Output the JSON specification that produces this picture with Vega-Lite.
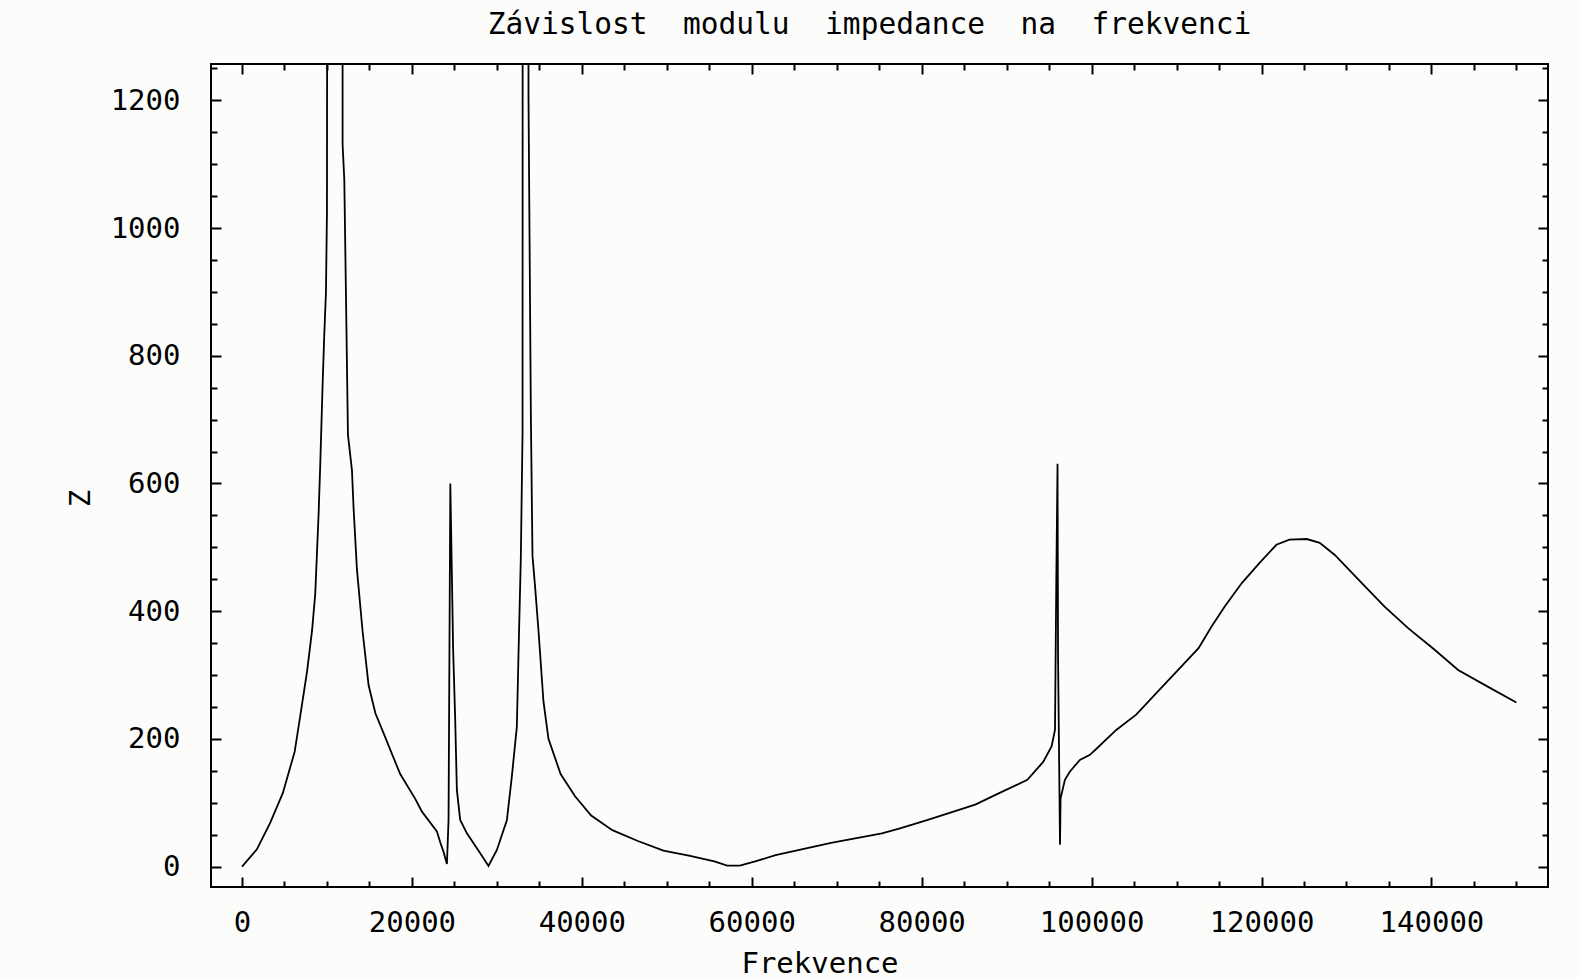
{
  "$schema": "https://vega.github.io/schema/vega-lite/v6.json",
  "width": 1337,
  "height": 823,
  "autosize": {"type": "none"},
  "padding": {"left": 211, "top": 64, "right": 31, "bottom": 92},
  "background": "#fcfdfb",
  "title": {
    "text": "Závislost\u00a0 modulu\u00a0 impedance\u00a0 na\u00a0 frekvenci",
    "font": "DejaVu Sans Mono",
    "fontSize": 29.5,
    "fontWeight": "normal",
    "color": "#000000",
    "anchor": "middle",
    "frame": "group",
    "baseline": "alphabetic",
    "offset": 29.5,
    "dx": -10,
    "dy": 30
  },
  "data": {
    "values": [
      {"f": 0, "z": 0}, {"f": 1750, "z": 27}, {"f": 3300, "z": 68}, {"f": 4800, "z": 115},
      {"f": 6200, "z": 180}, {"f": 6900, "z": 240}, {"f": 7650, "z": 305}, {"f": 8240, "z": 369},
      {"f": 8620, "z": 427}, {"f": 9020, "z": 554}, {"f": 9210, "z": 630}, {"f": 9490, "z": 756},
      {"f": 9680, "z": 832}, {"f": 9880, "z": 899}, {"f": 10000, "z": 1026}, {"f": 10200, "z": 4000},
      {"f": 11800, "z": 4000}, {"f": 11840, "z": 1131}, {"f": 12040, "z": 1076}, {"f": 12240, "z": 891},
      {"f": 12470, "z": 676}, {"f": 12940, "z": 621}, {"f": 13130, "z": 562}, {"f": 13530, "z": 465},
      {"f": 14190, "z": 369}, {"f": 14900, "z": 284}, {"f": 15700, "z": 240}, {"f": 16660, "z": 209},
      {"f": 17600, "z": 178}, {"f": 18620, "z": 145}, {"f": 20390, "z": 106}, {"f": 21180, "z": 86},
      {"f": 22940, "z": 55}, {"f": 23330, "z": 38}, {"f": 23720, "z": 23}, {"f": 24120, "z": 4},
      {"f": 24310, "z": 73}, {"f": 24480, "z": 500}, {"f": 24520, "z": 600}, {"f": 24850, "z": 340},
      {"f": 25090, "z": 232}, {"f": 25290, "z": 120}, {"f": 25680, "z": 73}, {"f": 26470, "z": 52},
      {"f": 28040, "z": 21}, {"f": 29010, "z": 1}, {"f": 30000, "z": 26}, {"f": 31180, "z": 73},
      {"f": 31760, "z": 141}, {"f": 32350, "z": 219}, {"f": 32540, "z": 330}, {"f": 32820, "z": 485},
      {"f": 33020, "z": 680}, {"f": 33080, "z": 4000}, {"f": 33700, "z": 4000}, {"f": 33720, "z": 1207},
      {"f": 34000, "z": 706}, {"f": 34190, "z": 487}, {"f": 34510, "z": 436}, {"f": 34900, "z": 369},
      {"f": 35480, "z": 259}, {"f": 36070, "z": 200}, {"f": 37500, "z": 145}, {"f": 39200, "z": 110},
      {"f": 41100, "z": 80}, {"f": 43590, "z": 57}, {"f": 46600, "z": 40}, {"f": 49600, "z": 25},
      {"f": 52600, "z": 17}, {"f": 55600, "z": 8}, {"f": 57100, "z": 1.5}, {"f": 58600, "z": 1.5},
      {"f": 60400, "z": 8}, {"f": 62800, "z": 18}, {"f": 65200, "z": 25}, {"f": 69330, "z": 37},
      {"f": 75320, "z": 52}, {"f": 77450, "z": 60}, {"f": 80720, "z": 73}, {"f": 86300, "z": 97},
      {"f": 89120, "z": 115}, {"f": 92440, "z": 136}, {"f": 94300, "z": 164}, {"f": 95290, "z": 188},
      {"f": 95690, "z": 214}, {"f": 95850, "z": 455}, {"f": 95990, "z": 631}, {"f": 96050, "z": 330},
      {"f": 96280, "z": 34}, {"f": 96350, "z": 107}, {"f": 96860, "z": 136}, {"f": 97450, "z": 149},
      {"f": 98620, "z": 167}, {"f": 99800, "z": 175}, {"f": 100450, "z": 183}, {"f": 102900, "z": 214},
      {"f": 105250, "z": 238}, {"f": 108000, "z": 277}, {"f": 110050, "z": 306}, {"f": 112590, "z": 342},
      {"f": 114120, "z": 376}, {"f": 115650, "z": 407}, {"f": 117680, "z": 444}, {"f": 119720, "z": 475},
      {"f": 121750, "z": 504}, {"f": 123280, "z": 512}, {"f": 125320, "z": 513}, {"f": 126850, "z": 507},
      {"f": 128630, "z": 488}, {"f": 131440, "z": 449}, {"f": 134480, "z": 407}, {"f": 137290, "z": 373},
      {"f": 140340, "z": 340}, {"f": 143140, "z": 308}, {"f": 146200, "z": 285}, {"f": 150000, "z": 257}
    ]
  },
  "layer": [
    {
      "mark": {"type": "line", "color": "#000000", "strokeWidth": 1.8, "clip": true, "interpolate": "linear"},
      "encoding": {
        "x": {
          "field": "f", "type": "quantitative",
          "scale": {"domain": [-3650, 153720], "nice": false, "zero": false},
          "axis": {
            "orient": "bottom",
            "title": "Frekvence",
            "titleX": 608.5,
            "titleY": 85,
            "titleAlign": "center",
            "titleBaseline": "alphabetic",
            "values": [0,20000,40000,60000,80000,100000,120000,140000],
            "format": "d",
            "labelPadding": 31,
            "labelFlush": false,
            "labelOverlap": false,
            "tickSize": -10
          }
        },
        "y": {
          "field": "z", "type": "quantitative",
          "scale": {"domain": [-32, 1257], "nice": false, "zero": false},
          "axis": {
            "orient": "left",
            "title": "Z",
            "titleX": -130.5,
            "titleY": 434,
            "titleAngle": -90,
            "titleAlign": "center",
            "titleBaseline": "middle",
            "values": [0,200,400,600,800,1000,1200],
            "format": "d",
            "labelPadding": 41,
            "labelFlush": false,
            "labelOverlap": false,
            "tickSize": -10
          }
        }
      }
    },
    {
      "mark": {"type": "line", "strokeOpacity": 0, "clip": true},
      "encoding": {
        "x": {
          "field": "f", "type": "quantitative",
          "axis": {
            "orient": "bottom", "title": null, "labels": false, "tickSize": -6,
            "values": [5000,10000,15000,25000,30000,35000,45000,50000,55000,65000,70000,75000,85000,90000,95000,105000,110000,115000,125000,130000,135000,145000,150000]
          }
        },
        "y": {
          "field": "z", "type": "quantitative",
          "axis": {
            "orient": "left", "title": null, "labels": false, "tickSize": -6,
            "values": [50,100,150,250,300,350,450,500,550,650,700,750,850,900,950,1050,1100,1150,1250]
          }
        }
      }
    },
    {
      "mark": {"type": "line", "strokeOpacity": 0, "clip": true},
      "encoding": {
        "x": {
          "field": "f", "type": "quantitative",
          "axis": {
            "orient": "top", "title": null, "labels": false, "tickSize": -10,
            "values": [0,20000,40000,60000,80000,100000,120000,140000]
          }
        },
        "y": {
          "field": "z", "type": "quantitative",
          "axis": {
            "orient": "right", "title": null, "labels": false, "tickSize": -10,
            "values": [0,200,400,600,800,1000,1200]
          }
        }
      }
    },
    {
      "mark": {"type": "line", "strokeOpacity": 0, "clip": true},
      "encoding": {
        "x": {
          "field": "f", "type": "quantitative",
          "axis": {
            "orient": "top", "title": null, "labels": false, "tickSize": -6,
            "values": [5000,10000,15000,25000,30000,35000,45000,50000,55000,65000,70000,75000,85000,90000,95000,105000,110000,115000,125000,130000,135000,145000,150000]
          }
        },
        "y": {
          "field": "z", "type": "quantitative",
          "axis": {
            "orient": "right", "title": null, "labels": false, "tickSize": -6,
            "values": [50,100,150,250,300,350,450,500,550,650,700,750,850,900,950,1050,1100,1150,1250]
          }
        }
      }
    }
  ],
  "resolve": {"axis": {"x": "independent", "y": "independent"}},
  "config": {
    "view": {"stroke": "#000000", "strokeWidth": 2},
    "axis": {
      "domain": false,
      "grid": false,
      "ticks": true,
      "tickColor": "#000000",
      "tickWidth": 2,
      "labelFont": "DejaVu Sans Mono",
      "labelFontSize": 29,
      "labelColor": "#000000",
      "titleFont": "DejaVu Sans Mono",
      "titleFontSize": 29,
      "titleFontWeight": "normal",
      "titleColor": "#000000",
      "titlePadding": 0
    }
  }
}
